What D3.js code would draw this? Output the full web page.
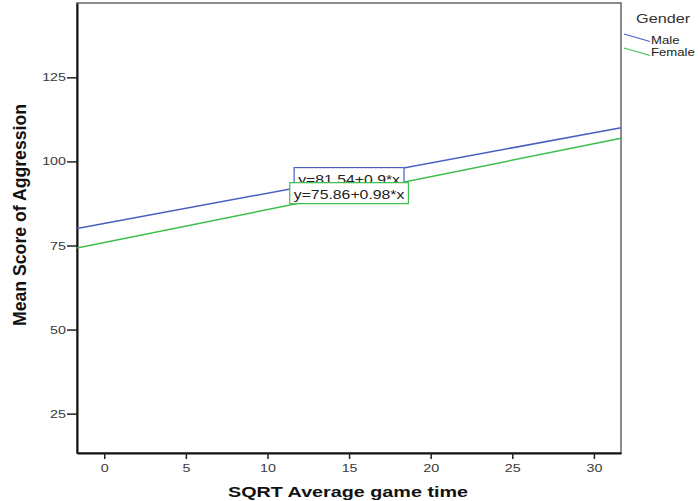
<!DOCTYPE html>
<html>
<head>
<meta charset="utf-8">
<script src="https://cdn.jsdelivr.net/npm/d3@7"></script>
<style>
  html, body { margin: 0; padding: 0; background: #fff; }
  svg { display: block; }
  text { font-family: "Liberation Sans", Arial, sans-serif; }
</style>
</head>
<body>
<svg id="chart" width="698" height="501"></svg>
<script>
// Fit lines by gender: mean aggression score vs. square-root game time
const groups = ["Male", "Female"];
const intercepts = [81.54, 75.86];
const slopes = [0.9, 0.98];
const fitLabels = ["y=81.54+0.9*x", "y=75.86+0.98*x"];
const colors = ["#4a5fc1", "#3cbf4a"];
const xTicks = [0, 5, 10, 15, 20, 25, 30];
const yTicks = [25, 50, 75, 100, 125];
const xDomain = [-1.67, 31.66];
const yDomain = [13.3, 147.1];
const labelAt = 15;

const svg = d3.select("#chart");
const plot = { left: 77, right: 621, top: 3, bottom: 453 };

// the typeface is drawn a little wider than its natural set width
function widen(sel, k) {
  sel.each(function () {
    const w = this.getComputedTextLength();
    d3.select(this).attr("textLength", w * k).attr("lengthAdjust", "spacingAndGlyphs");
  });
}

const x = d3.scaleLinear().domain(xDomain).range([plot.left, plot.right]);
const y = d3.scaleLinear().domain(yDomain).range([plot.bottom, plot.top]);

// plot frame
svg.append("rect")
  .attr("x", plot.left).attr("y", plot.top)
  .attr("width", plot.right - plot.left).attr("height", plot.bottom - plot.top)
  .attr("fill", "#fff").attr("stroke", "#666").attr("stroke-width", 1.5);

// axes
const xAxis = svg.append("g")
  .attr("transform", `translate(0,${plot.bottom})`)
  .call(d3.axisBottom(x).tickValues(xTicks).tickSize(6).tickPadding(3).tickSizeOuter(0));
const yAxis = svg.append("g")
  .attr("transform", `translate(${plot.left},0)`)
  .call(d3.axisLeft(y).tickValues(yTicks).tickSize(10).tickPadding(1).tickSizeOuter(0));
[xAxis, yAxis].forEach(g => {
  g.select(".domain").attr("stroke", "#111").attr("stroke-width", 2);
  g.selectAll(".tick line").attr("stroke", "#222").attr("stroke-width", 1.5);
  g.selectAll(".tick text")
    .attr("fill", "#3a3a3a")
    .style("font-family", "'Liberation Sans', Arial, sans-serif")
    .style("font-size", "11px")
    .call(widen, 1.3);
});
xAxis.selectAll(".tick text").attr("dy", "0.9em");

// regression lines
groups.forEach((g, i) => {
  svg.append("line")
    .attr("x1", x(xDomain[0])).attr("y1", y(intercepts[i] + slopes[i] * xDomain[0]))
    .attr("x2", x(xDomain[1])).attr("y2", y(intercepts[i] + slopes[i] * xDomain[1]))
    .attr("stroke", colors[i]).attr("stroke-width", 1.5);
});

// equation labels centred on each line
groups.forEach((g, i) => {
  const cx = x(labelAt), cy = y(intercepts[i] + slopes[i] * labelAt);
  const lab = svg.append("g");
  const t = lab.append("text")
    .attr("x", cx).attr("y", cy + 1)
    .attr("text-anchor", "middle").attr("dominant-baseline", "central")
    .attr("fill", "#222").style("font-size", "13.5px")
    .text(fitLabels[i])
    .call(widen, 1.17);
  const w = +t.attr("textLength");
  lab.insert("rect", "text")
    .attr("x", cx - w / 2 - 4).attr("y", cy - 10.5)
    .attr("width", w + 8).attr("height", 21)
    .attr("fill", "#fff").attr("stroke", colors[i]).attr("stroke-width", 1.2);
});

// axis titles
svg.append("text")
  .attr("x", 348).attr("y", 497)
  .attr("text-anchor", "middle")
  .style("font-size", "14.5px").style("font-weight", "bold").attr("fill", "#111")
  .attr("textLength", 240).attr("lengthAdjust", "spacingAndGlyphs")
  .text("SQRT Average game time");
svg.append("text")
  .attr("transform", "translate(26,215) rotate(-90)")
  .attr("text-anchor", "middle")
  .style("font-size", "19px").style("font-weight", "bold").attr("fill", "#111")
  .attr("textLength", 222).attr("lengthAdjust", "spacingAndGlyphs")
  .text("Mean Score of Aggression");

// legend
svg.append("text")
  .attr("x", 636).attr("y", 22.5)
  .attr("fill", "#333").style("font-size", "13px")
  .text("Gender")
  .call(widen, 1.25);
groups.forEach((g, i) => {
  const ly = 34 + i * 14;
  svg.append("line")
    .attr("x1", 624).attr("y1", ly).attr("x2", 650).attr("y2", ly + 7.5)
    .attr("stroke", colors[i]).attr("stroke-width", 1.2);
  svg.append("text")
    .attr("x", 651).attr("y", 44 + i * 12)
    .attr("fill", "#222").style("font-size", "10.5px")
    .text(g)
    .call(widen, 1.25);
});
</script>
</body>
</html>
